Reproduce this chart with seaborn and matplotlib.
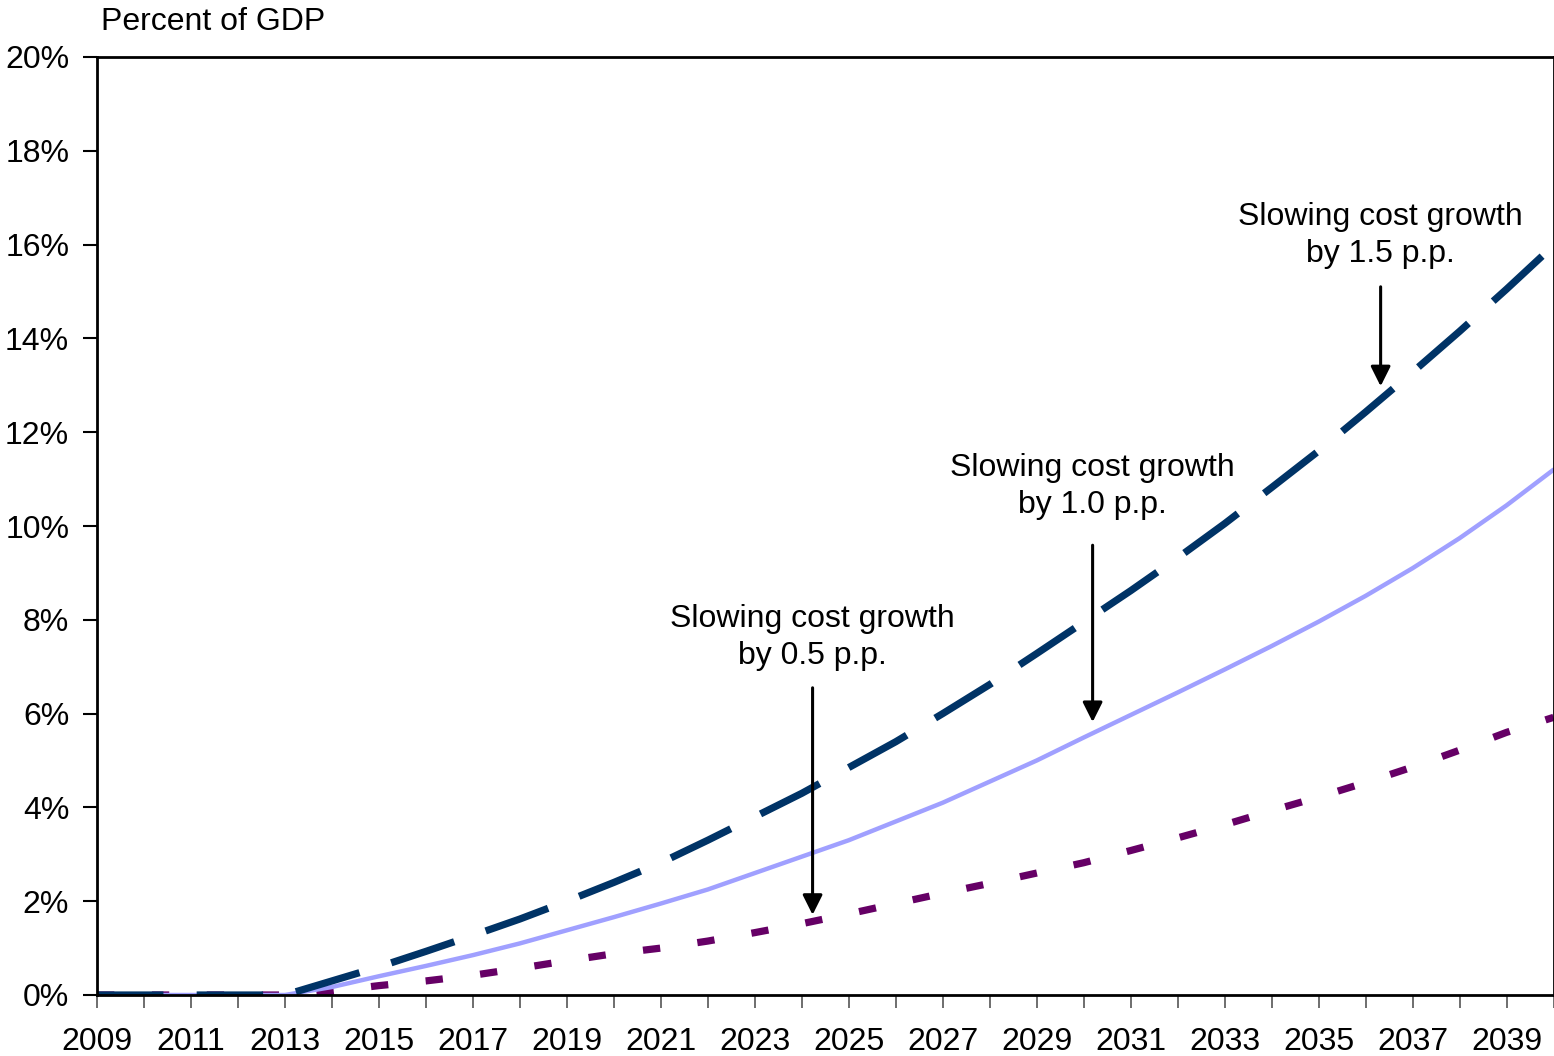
"""
Cumulative savings from slowing health cost growth, percent of GDP.
"""

import numpy as np
import pandas as pd
import matplotlib
matplotlib.use("Agg")
import matplotlib.pyplot as plt
import seaborn as sns

years = list(range(2009, 2041))

# 1.5 p.p. slowdown (dashed navy)
slow_15 = [0, 0, 0, 0, 0, 0.3, 0.6, 0.93, 1.27, 1.62, 2.0, 2.4, 2.82, 3.3,
           3.8, 4.3, 4.85, 5.4, 6.0, 6.62, 7.28, 7.95, 8.62, 9.32, 10.05,
           10.82, 11.6, 12.43, 13.28, 14.15, 15.05, 15.98]
# 1.0 p.p. slowdown (solid lilac)
slow_10 = [0, 0, 0, 0, 0, 0.17, 0.4, 0.62, 0.85, 1.1, 1.38, 1.66, 1.95, 2.25,
           2.6, 2.95, 3.3, 3.7, 4.1, 4.55, 5.0, 5.49, 5.97, 6.45, 6.94, 7.44,
           7.96, 8.51, 9.1, 9.74, 10.44, 11.2]
# 0.5 p.p. slowdown (dotted purple)
slow_05 = [0, 0, 0, 0, 0, 0.08, 0.2, 0.3, 0.42, 0.57, 0.73, 0.88, 1.0, 1.15,
           1.33, 1.52, 1.73, 1.95, 2.17, 2.38, 2.6, 2.82, 3.08, 3.35, 3.63,
           3.93, 4.22, 4.53, 4.86, 5.22, 5.6, 5.92]

df = pd.DataFrame({"Year": years, "s15": slow_15, "s10": slow_10, "s05": slow_05})

sns.set_style("white")
plt.rcParams["font.family"] = ["Liberation Sans", "DejaVu Sans"]
plt.rcParams["text.color"] = "black"
plt.rcParams["xtick.labelcolor"] = "black"
plt.rcParams["ytick.labelcolor"] = "black"
FS = 23

fig = plt.figure(figsize=(15.54, 10.56), dpi=100)
ax = fig.add_axes([97 / 1554, 1 - 995 / 1056, 1 - 97 / 1554 - 0.0003, (995 - 57) / 1056])

sns.lineplot(data=df, x="Year", y="s05", ax=ax, color="#660066", lw=5.2,
             linestyle=(0, (2.4, 5.2)), dash_capstyle="butt")
sns.lineplot(data=df, x="Year", y="s10", ax=ax, color="#A0A0FF", lw=3.2)
sns.lineplot(data=df, x="Year", y="s15", ax=ax, color="#003366", lw=5.2,
             linestyle=(0, (9.2, 4.6)), dash_capstyle="butt")

ax.set_xlim(2009, 2040)
ax.set_ylim(0, 20)
ax.set_xlabel("")
ax.set_ylabel("")

ax.set_yticks(np.arange(0, 21, 2))
ax.set_yticklabels([f"{v}%" for v in range(0, 21, 2)], fontsize=FS)
ax.set_xticks(years)
ax.set_xticklabels([str(y) if y % 2 == 1 else "" for y in years], fontsize=FS)
ax.tick_params(axis="y", direction="out", length=10, width=1.5, color="black",
               labelcolor="black", pad=10, left=True)
ax.tick_params(axis="x", direction="out", length=9, width=1.2, color="#555555",
               labelcolor="black", pad=14, bottom=True)

for side in ["left", "bottom", "top", "right"]:
    ax.spines[side].set_visible(True)
    ax.spines[side].set_color("black")
    ax.spines[side].set_linewidth(2)

# annotations: label text + arrow
notes = [
    ("Slowing cost growth\nby 0.5 p.p.", 2024.23, 7.62, 6.55, 1.71),
    ("Slowing cost growth\nby 1.0 p.p.", 2030.19, 10.85, 9.59, 5.82),
    ("Slowing cost growth\nby 1.5 p.p.", 2036.32, 16.2, 15.1, 12.98),
]
for label, xa, ytxt, y0, y1 in notes:
    ax.text(xa, ytxt, label, ha="center", va="center", fontsize=FS,
            linespacing=1.3, color="black")
    ax.annotate("", xy=(xa, y1), xytext=(xa, y0),
                arrowprops=dict(arrowstyle="-|>,head_length=0.6,head_width=0.3",
                                color="black", lw=2.2, mutation_scale=20,
                                shrinkA=0, shrinkB=0))

fig.text(101 / 1554, 1 - 22 / 1056, "Percent of GDP", ha="left", va="center",
         fontsize=FS, color="black")

fig.savefig("out.png", dpi=100)
